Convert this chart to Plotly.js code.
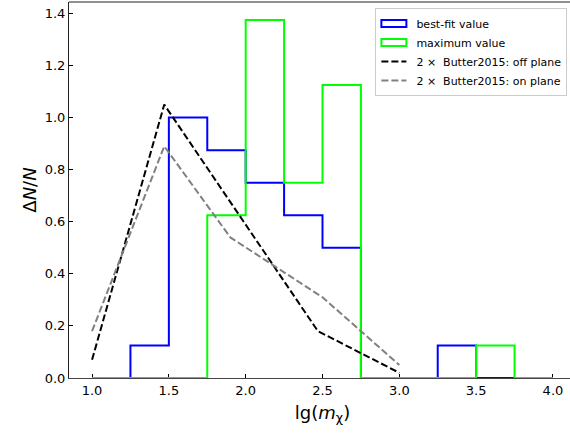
<!DOCTYPE html>
<html>
<head>
<meta charset="utf-8">
<script src="https://cdn.plot.ly/plotly-3.0.1.min.js"></script>
<style>
html,body{margin:0;padding:0;overflow:hidden;background:#fff;width:570px;height:435px;}
#chart{width:600px;height:435px;}
</style>
</head>
<body>
<div id="chart"></div>
<script>
// Histogram bin edges and normalized counts (ΔN/N)
const binEdges = [1.0, 1.25, 1.5, 1.75, 2.0, 2.25, 2.5, 2.75, 3.0, 3.25, 3.5, 3.75, 4.0];
const bestFitCounts = [0, 0.125, 1.0, 0.875, 0.75, 0.625, 0.5, 0, 0, 0.125, 0, 0];
const maxValueCounts = [0, 0, 0, 0.625, 1.375, 0.75, 1.125, 0, 0, 0, 0.125, 0];

// Butter2015 (x2) curves
const offPlaneX = [1.0, 1.47, 2.47, 3.0];
const offPlaneY = [0.07, 1.05, 0.18, 0.02];
const onPlaneX = [1.0, 1.47, 1.9, 2.5, 3.0];
const onPlaneY = [0.18, 0.89, 0.54, 0.31, 0.05];

const xTicks = [1.0, 1.5, 2.0, 2.5, 3.0, 3.5, 4.0];
const yTicks = [0.0, 0.2, 0.4, 0.6, 0.8, 1.0, 1.2, 1.4];

function stepPath(edges, counts) {
  const xs = [edges[0]], ys = [0];
  for (let i = 0; i < counts.length; i++) {
    xs.push(edges[i]); ys.push(counts[i]);
    xs.push(edges[i + 1]); ys.push(counts[i]);
  }
  xs.push(edges[edges.length - 1]); ys.push(0);
  return {xs, ys};
}

const bf = stepPath(binEdges, bestFitCounts);
const mv = stepPath(binEdges, maxValueCounts);

const traces = [
  {x: bf.xs, y: bf.ys, mode: 'lines', name: 'best-fit value',
   line: {color: '#0000ff', width: 2}},
  {x: mv.xs, y: mv.ys, mode: 'lines', name: 'maximum value',
   line: {color: '#00ff00', width: 2}},
  {x: offPlaneX, y: offPlaneY, mode: 'lines', name: '2 ×\u00a0 Butter2015: off plane',
   line: {color: '#000000', width: 2, dash: '7px,3px'}},
  {x: onPlaneX, y: onPlaneY, mode: 'lines', name: '2 ×\u00a0 Butter2015: on plane',
   line: {color: '#808080', width: 2, dash: '7px,3px'}}
];

const layout = {
  width: 600, height: 435,
  margin: {l: 69, r: 24, t: 2, b: 57},
  paper_bgcolor: '#fff', plot_bgcolor: '#fff',
  font: {family: 'DejaVu Sans', color: '#000'},
  showlegend: true,
  legend: {
    x: 0.983, xanchor: 'right', y: 0.984, yanchor: 'top',
    bgcolor: 'rgba(255,255,255,0.8)', bordercolor: '#cccccc', borderwidth: 1,
    font: {family: 'DejaVu Sans', size: 11, color: '#000'},
    itemwidth: 30
  },
  xaxis: {
    range: [0.85, 4.15], tickvals: xTicks, tickformat: '.1f',
    ticks: 'inside', ticklen: 4, tickcolor: '#000', tickwidth: 1,
    showgrid: false, zeroline: false, layer: 'below traces',
    showline: true, linecolor: '#444', linewidth: 1, mirror: false,
    tickfont: {family: 'DejaVu Sans', size: 13, color: '#000'},
    title: {text: 'lg(<i>m</i><sub>χ</sub>)', font: {family: 'DejaVu Sans', size: 18, color: '#000'}, standoff: 9},
    automargin: false
  },
  yaxis: {
    range: [0, 1.444], tickvals: yTicks, tickformat: '.1f',
    ticks: 'inside', ticklen: 4, tickcolor: '#000', tickwidth: 1,
    showgrid: false, zeroline: false,
    showline: true, linecolor: '#222', linewidth: 1,
    tickfont: {family: 'DejaVu Sans', size: 13, color: '#000'},
    title: {text: 'Δ<i>N</i>/<i>N</i>', font: {family: 'DejaVu Sans', size: 18, color: '#000'}, standoff: 3},
    automargin: false
  },
  shapes: [
    {type: 'line', xref: 'paper', yref: 'paper', x0: 0, x1: 1, y0: 1, y1: 1,
     line: {color: '#222', width: 1}}
  ]
};

Plotly.newPlot('chart', traces, layout, {displayModeBar: false, staticPlot: true}).then(function (gd) {
  // Matplotlib-style legend handles: outlined boxes for the step histograms
  const items = gd.querySelectorAll('.legend .traces');
  items.forEach(function (g, i) {
    const p = g.querySelector('.legendlines path');
    if (!p) return;
    if (i < 2) {
      p.setAttribute('d', 'M5,-3.5h25v7h-25z');
      p.style.fill = 'none';
      p.style.strokeLinejoin = 'miter';
    } else {
      p.setAttribute('d', 'M5,0h25');
    }
  });
});
</script>
</body>
</html>
